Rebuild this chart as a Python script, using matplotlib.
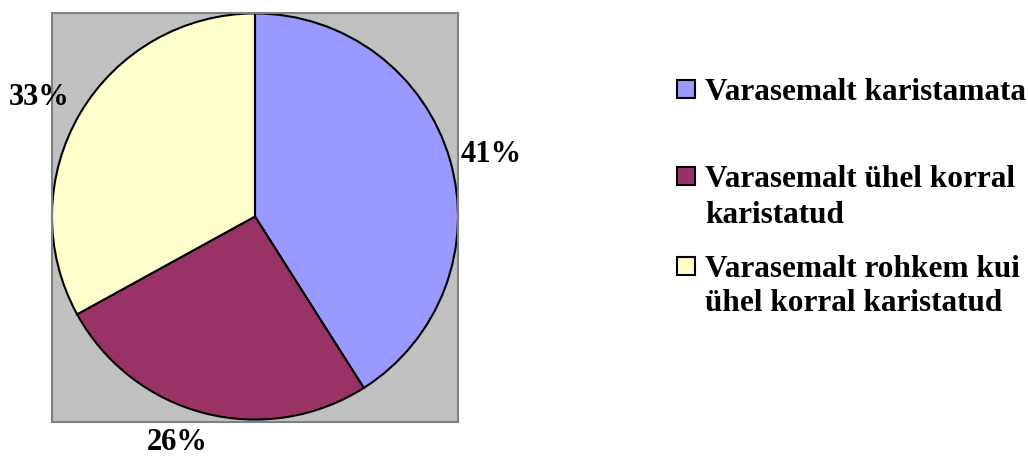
import matplotlib
matplotlib.use("Agg")
import matplotlib.pyplot as plt
from matplotlib.patches import Rectangle

# andmed
labels = ["Varasemalt karistamata",
          "Varasemalt ühel korral\nkaristatud",
          "Varasemalt rohkem kui\nühel korral karistatud"]
shares = [41, 26, 33]
pct_labels = ["41%", "26%", "33%"]
colors = ["#9999FF", "#993366", "#FFFFCC"]

# protsentide asukohad (andmeühikutes, raadius = 1)
pct_pos = [(1.165, 0.303), (-0.382, -1.115), (-1.062, 0.584)]

plt.rcParams['font.family'] = ['Liberation Serif', 'DejaVu Serif']
plt.rcParams['font.weight'] = 'bold'

W, H = 1028, 459
fig = plt.figure(figsize=(W / 100, H / 100), dpi=100)

# hall joonise ala
ax = fig.add_axes([52 / W, (H - 422) / H, 406 / W, 409 / H])
ax.pie(shares, labels=pct_labels, colors=colors, startangle=90,
       counterclock=False, labeldistance=1.2, frame=True,
       wedgeprops=dict(edgecolor="black", linewidth=1.5),
       textprops=dict(fontsize=22, fontweight="bold"))
ax.set_facecolor("#C0C0C0")
for s in ax.spines.values():
    s.set_color("#808080")
    s.set_linewidth(1.5)
ax.set_xticks([])
ax.set_yticks([])
ax.set_aspect("auto")
ax.set_xlim(-1.0, 1.0)
ax.set_ylim(-1.012, 1.002)

for t in ax.texts:
    i = pct_labels.index(t.get_text())
    t.set_position(pct_pos[i])
    t.set_ha("center")
    t.set_va("center")

# legend käsitsi
rows = [[100], [187, 223], [277, 311]]
for lab, c, ys in zip(labels, colors, rows):
    fig.patches.append(Rectangle((677 / W, (H - ys[0] + 2) / H), 18 / W, 18 / H,
                                 transform=fig.transFigure, facecolor=c,
                                 edgecolor="black", linewidth=1.5))
    for line, y in zip(lab.split("\n"), ys):
        fig.text(705 / W, (H - y) / H, line, fontsize=22.5, fontweight="bold",
                 va="baseline", ha="left")

fig.savefig("out.png", dpi=100)
